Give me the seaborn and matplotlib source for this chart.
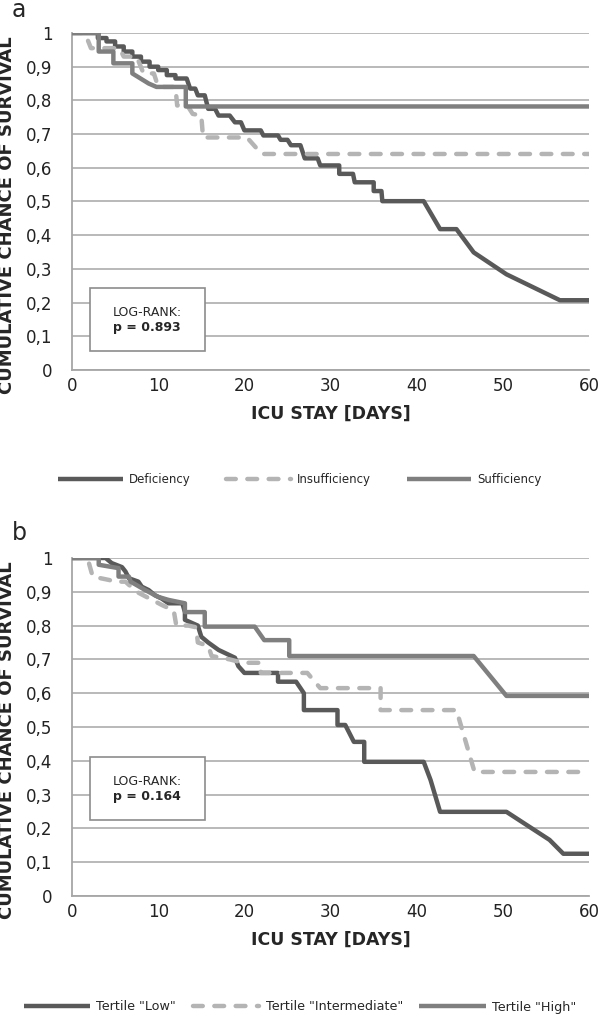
import matplotlib
matplotlib.use("Agg")
import matplotlib.pyplot as plt
import seaborn as sns
from matplotlib.patches import Rectangle

# panel a: vitamin D status groups (polyline vertices)
a_def_days = [0, 3, 3, 4, 4, 5, 5, 6, 6, 7, 7, 8, 8, 9, 9, 10, 10, 11, 11, 12, 12, 13.3,
              13.7, 14.3, 14.6, 15.4, 15.8, 16.6, 17, 18.3, 18.9, 19.6, 20, 21.9, 22.2, 23.9,
              24.2, 25, 25.4, 26.5, 27, 28.5, 28.8, 31, 31, 32.6, 32.8, 35, 35, 35.9, 36,
              40.8, 42.7, 44.6, 46.6, 50.4, 56.6, 60]
a_def_surv = [1, 1, 0.985, 0.985, 0.975, 0.975, 0.96, 0.96, 0.945, 0.945, 0.93, 0.93, 0.915,
              0.915, 0.90, 0.90, 0.89, 0.89, 0.875, 0.875, 0.865, 0.865, 0.835, 0.835, 0.815,
              0.815, 0.775, 0.775, 0.755, 0.755, 0.735, 0.735, 0.711, 0.711, 0.696, 0.696,
              0.683, 0.683, 0.667, 0.667, 0.628, 0.628, 0.607, 0.607, 0.582, 0.582, 0.557,
              0.557, 0.531, 0.531, 0.501, 0.501, 0.418, 0.418, 0.349, 0.284, 0.207, 0.207]

a_ins_days = [0, 1.5, 2.2, 5.5, 6, 7.5, 8.3, 9.5, 10, 12, 12.2, 13.5, 14, 15, 15.2, 20.3, 22, 60]
a_ins_surv = [1, 1, 0.955, 0.955, 0.93, 0.93, 0.88, 0.88, 0.84, 0.84, 0.785, 0.78, 0.76,
              0.755, 0.69, 0.69, 0.641, 0.641]

a_suf_days = [0, 3.1, 3.1, 4.8, 4.8, 7, 7, 8.9, 9.8, 13.2, 13.2, 60]
a_suf_surv = [1, 1, 0.945, 0.945, 0.91, 0.91, 0.88, 0.85, 0.84, 0.84, 0.782, 0.782]

# panel b: tertiles
b_low_days = [0, 3.9, 4.6, 5.8, 6.2, 6.6, 7.7, 8.1, 8.9, 9.6, 10.4, 11.2, 12.8, 13.1, 13.1,
              14.6, 15, 15.8, 17, 18.9, 19.3, 20, 23.9, 23.9, 26, 26.9, 26.9, 30.8, 30.8,
              31.7, 32.7, 33.9, 33.9, 40.8, 41.6, 42.7, 50.4, 55.4, 57, 60]
b_low_surv = [1, 1, 0.985, 0.973, 0.96, 0.94, 0.93, 0.915, 0.905, 0.89, 0.88, 0.866,
              0.866, 0.84, 0.817, 0.80, 0.767, 0.75, 0.728, 0.705, 0.68, 0.66, 0.66, 0.634,
              0.634, 0.60, 0.55, 0.55, 0.506, 0.506, 0.456, 0.456, 0.397, 0.397, 0.343,
              0.249, 0.249, 0.166, 0.125, 0.125]

b_int_days = [0, 1.8, 2.4, 4.3, 5, 6.2, 7.5, 9, 10.5, 11.8, 12.1, 13.5, 14.4, 14.6, 15.8,
              16.2, 18.3, 19.8, 21.9, 21.9, 27.3, 28.8, 35.8, 35.8, 44.6, 46.7, 60]
b_int_surv = [1, 1, 0.945, 0.935, 0.93, 0.93, 0.9, 0.88, 0.86, 0.845, 0.80, 0.80, 0.795,
              0.75, 0.74, 0.71, 0.70, 0.69, 0.69, 0.66, 0.66, 0.615, 0.615, 0.55, 0.55,
              0.367, 0.367]

b_high_days = [0, 3.1, 3.1, 5.4, 5.4, 6.6, 6.8, 8.5, 10, 11.2, 13.1, 13.1, 15.4, 15.4, 21.2,
               22.3, 25.2, 25.2, 46.6, 50.4, 60]
b_high_surv = [1, 1, 0.98, 0.97, 0.945, 0.945, 0.93, 0.905, 0.885, 0.876, 0.866, 0.84,
               0.84, 0.797, 0.797, 0.757, 0.757, 0.71, 0.71, 0.592, 0.592]

y_ticks = [0, 0.1, 0.2, 0.3, 0.4, 0.5, 0.6, 0.7, 0.8, 0.9, 1.0]
y_tick_labels = ["0", "0,1", "0,2", "0,3", "0,4", "0,5", "0,6", "0,7", "0,8", "0,9", "1"]
x_ticks = [0, 10, 20, 30, 40, 50, 60]

labels_a = ["Deficiency", "Insufficiency", "Sufficiency"]
labels_b = ['Tertile "Low"', 'Tertile "Intermediate"', 'Tertile "High"']
p_values = ["p = 0.893", "p = 0.164"]
panel_names = ["a", "b"]

sns.set_style("white")
plt.rcParams["font.family"] = ["DejaVu Sans"]

dark = "#595959"
light = "#b4b4b4"
mid = "#7f7f7f"
grid_col = "#a6a6a6"

fig = plt.figure(figsize=(6, 10.15), dpi=100)
ax_a = fig.add_axes([0.12, 1 - 370 / 1015, 0.862, 337 / 1015])
ax_b = fig.add_axes([0.12, 1 - 896 / 1015, 0.862, 338 / 1015])

series_a = [(a_def_days, a_def_surv), (a_ins_days, a_ins_surv), (a_suf_days, a_suf_surv)]
series_b = [(b_low_days, b_low_surv), (b_int_days, b_int_surv), (b_high_days, b_high_surv)]
styles = [(dark, "-"), (light, (0, (2.2, 2.6))), (mid, "-")]

# legend settings per panel: (y px, fontsize, handlelength, columnspacing)
legend_cfg = [(480, 8.5, 5.5, 3.0), (1007, 9.2, 5.2, 1.3)]

panels = [(ax_a, series_a, labels_a, p_values[0]),
          (ax_b, series_b, labels_b, p_values[1])]

for i, (ax, series, labels, pval) in enumerate(panels):
    for (days, surv), (col, ls), lab in zip(series, styles, labels):
        sns.lineplot(x=days, y=surv, ax=ax, color=col, linestyle=ls, lw=3.2,
                     estimator=None, sort=False, legend=False, label=lab,
                     dash_capstyle="round", solid_capstyle="butt", zorder=3)
    ax.set_xlim(0, 60)
    ax.set_ylim(0, 1)
    ax.set_xticks(x_ticks)
    ax.set_yticks(y_ticks)
    ax.set_yticklabels(y_tick_labels)
    ax.tick_params(axis="y", length=0, pad=14, labelsize=12, colors="#222222")
    ax.tick_params(axis="x", length=0, pad=5, labelsize=12, colors="#222222")
    ax.grid(axis="y", color=grid_col, lw=1.1)
    ax.set_axisbelow(True)
    for side in ["top", "right"]:
        ax.spines[side].set_visible(False)
    for side in ["left", "bottom"]:
        ax.spines[side].set_color(grid_col)
        ax.spines[side].set_linewidth(1.3)
    ax.set_xlabel("ICU STAY [DAYS]", fontsize=12.5, fontweight="bold", labelpad=7)
    ax.set_ylabel("")
    if ax.get_legend() is not None:
        ax.get_legend().remove()

    # log-rank box
    yb = 0.057 if i == 0 else 0.225
    ax.add_patch(Rectangle((2.1, yb), 13.3, 0.185,
                           facecolor="white", edgecolor="#8c8c8c", lw=1.2, zorder=4))
    ax.text(8.7, yb + 0.115, "LOG-RANK:", ha="center", va="center", fontsize=9, zorder=5)
    ax.text(8.7, yb + 0.07, pval, ha="center", va="center", fontsize=9,
            fontweight="bold", zorder=5)

    leg_y, leg_fs, leg_hl, leg_cs = legend_cfg[i]
    handles, labs = ax.get_legend_handles_labels()
    fig.legend(handles, labs, loc="center", bbox_to_anchor=(0.5, 1 - leg_y / 1015),
               ncol=3, frameon=False, fontsize=leg_fs, handlelength=leg_hl,
               columnspacing=leg_cs, handletextpad=0.5)

    top_px = 33 if i == 0 else 558
    fig.text(0.012, 1 - (top_px + 182) / 1015, "CUMULATIVE CHANCE OF SURVIVAL",
             rotation=90, ha="center", va="center", fontsize=13, fontweight="bold")
    fig.text(0.02, 1 - (10 if i == 0 else 533) / 1015, panel_names[i],
             ha="left", va="center", fontsize=17)

fig.savefig("out.png", dpi=100)
